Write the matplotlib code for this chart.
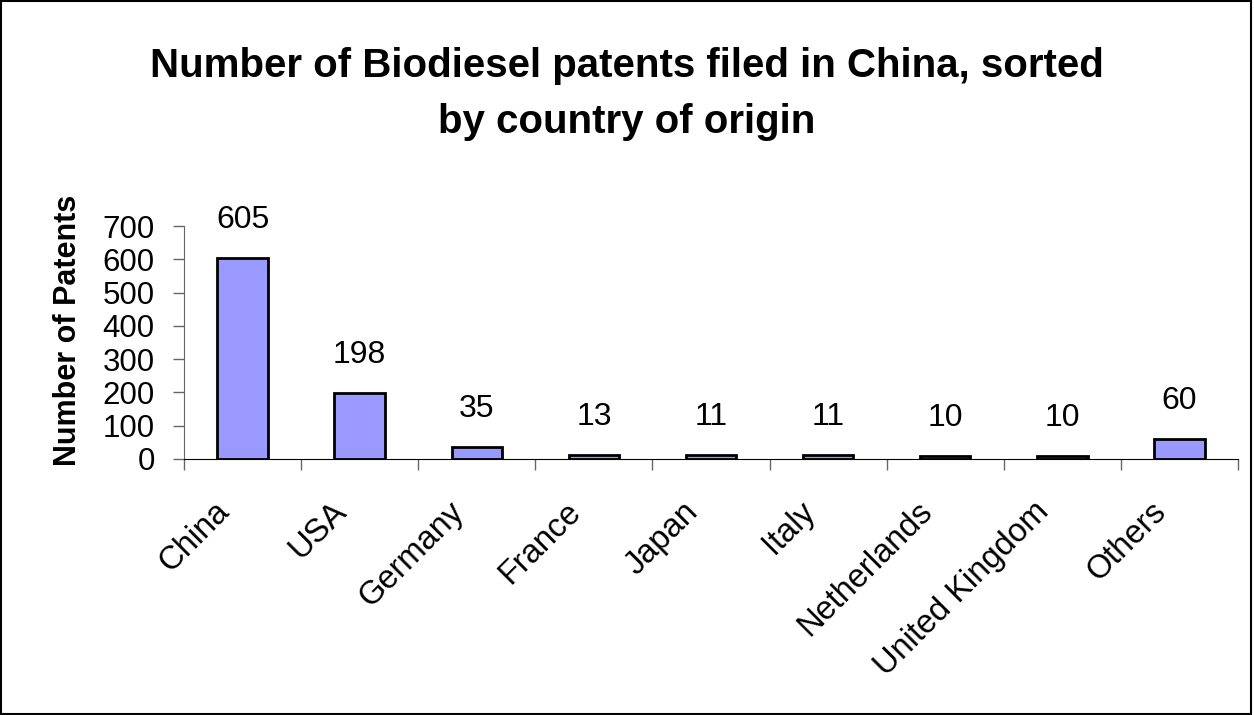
import matplotlib.pyplot as plt
from matplotlib.patches import Rectangle

countries = ['China', 'USA', 'Germany', 'France', 'Japan', 'Italy',
             'Netherlands', 'United Kingdom', 'Others']
patents = [605, 198, 35, 13, 11, 11, 10, 10, 60]
y_ticks = [0, 100, 200, 300, 400, 500, 600, 700]

plt.rcParams['font.family'] = ['Liberation Sans', 'DejaVu Sans']

W, H = 1254, 715
fig = plt.figure(figsize=(W / 100, H / 100), dpi=100)
ax = fig.add_axes([184 / W, 1 - 459 / H, (1238 - 184) / W, (459 - 226) / H])

x = list(range(len(countries)))
ax.bar(x, patents, width=0.43, color='#9999FF', edgecolor='black', linewidth=2)

# value labels above bars
for i, v in enumerate(patents):
    ax.annotate(str(v), (i, v), xytext=(0, 38), textcoords='offset pixels',
                ha='center', va='center', fontsize=23)

ax.set_xlim(-0.5, len(countries) - 0.5)
ax.set_ylim(0, 700)
ax.set_yticks(y_ticks)
ax.set_yticklabels([str(t) for t in y_ticks], fontsize=22.5)

# category ticks sit between the bars
ax.set_xticks([i - 0.5 for i in range(len(countries) + 1)])
ax.set_xticklabels([])
ax.tick_params(axis='x', length=8, width=1, direction='out', color='#666666')
ax.tick_params(axis='y', length=8, width=1, direction='out', pad=13, color='#666666')
for i, name in enumerate(countries):
    ax.annotate(name, (i, 0), xytext=(-18, -48), textcoords='offset pixels',
                rotation=45, rotation_mode='anchor', ha='right', va='center',
                fontsize=23.5)

ax.spines['top'].set_visible(False)
ax.spines['right'].set_visible(False)
ax.spines['left'].set_color('#666666')

ax.set_ylabel('Number of Patents', fontsize=22, fontweight='bold')
ax.yaxis.set_label_coords(-0.096, 0.554)

fig.text(0.5, 1 - 77 / H, 'Number of Biodiesel patents filed in China, sorted',
         ha='center', va='baseline', fontsize=29, fontweight='bold')
fig.text(0.5, 1 - 133 / H, 'by country of origin',
         ha='center', va='baseline', fontsize=29, fontweight='bold')

fig.patches.append(Rectangle((0.001, 0.001), 0.997, 0.997, transform=fig.transFigure,
                             fill=False, edgecolor='black', linewidth=1.5))

fig.savefig('out.png', dpi=100)
